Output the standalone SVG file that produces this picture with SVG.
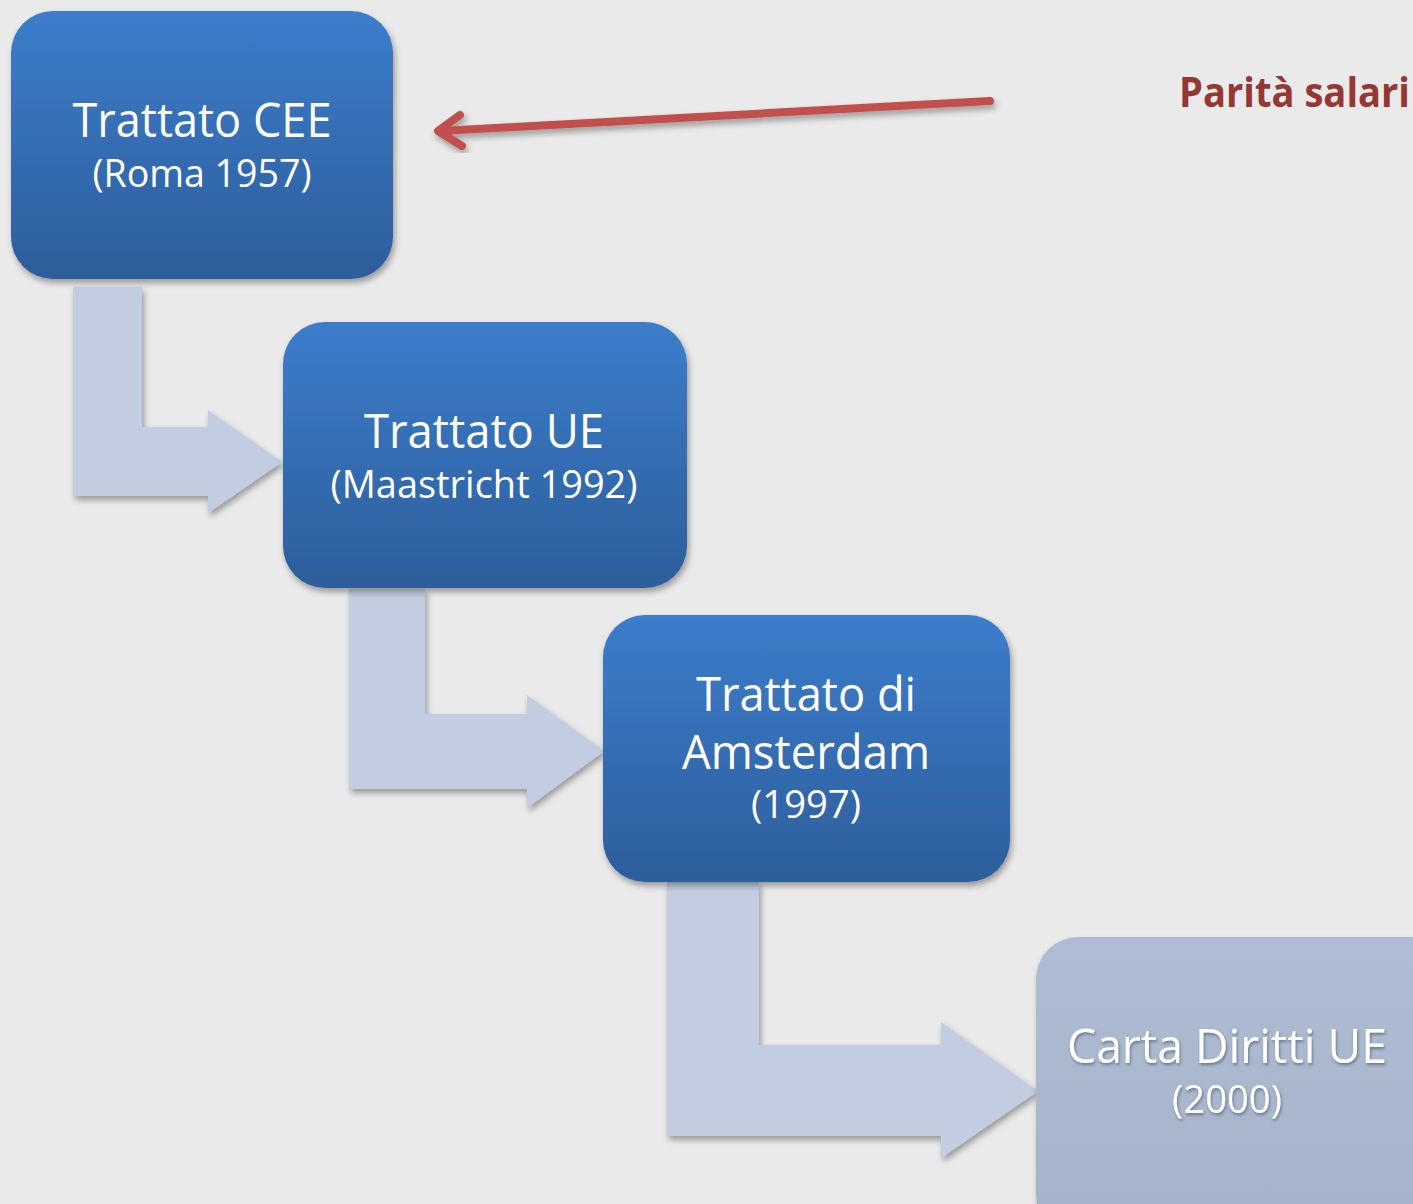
<svg xmlns="http://www.w3.org/2000/svg" width="1413" height="1204" viewBox="0 0 1413 1204">
<defs>
<linearGradient id="blue" x1="0" y1="0" x2="0" y2="1">
<stop offset="0" stop-color="#3C7DCB"/>
<stop offset="1" stop-color="#2D5E9B"/>
</linearGradient>
<linearGradient id="gray" x1="0" y1="0" x2="0" y2="1">
<stop offset="0" stop-color="#AEBDD3"/>
<stop offset="1" stop-color="#A5B3C8"/>
</linearGradient>
<filter id="sh" x="-10%" y="-10%" width="125%" height="125%">
<feDropShadow dx="2" dy="4" stdDeviation="3" flood-color="#000" flood-opacity="0.35"/>
</filter>
<filter id="tsh" x="-10%" y="-30%" width="125%" height="170%">
<feDropShadow dx="1" dy="2" stdDeviation="1.5" flood-color="#3A4A66" flood-opacity="0.6"/>
</filter>
<style>
.box{filter:url(#sh)}
.t{font-family:"Open Sans","Liberation Sans",sans-serif;fill:#fff;text-anchor:middle}
.big{font-size:48px}
.small{font-size:38px}
.bent{fill:#C2CDE1;filter:url(#sh)}
</style>
</defs>
<rect width="1413" height="1204" fill="#EAEAEA"/>
<g id="connectors">
<path class="bent" d="M73,287 H142 V427 H208 V410 L282,462 L208,513 V496 H73 Z"/>
<path class="bent" d="M349,589 H425 V714 H527 V695 L604,751 L527,808 V789 H349 Z"/>
<path class="bent" d="M667,882 H759 V1045 H941 V1022 L1038,1091 L941,1158 V1136 H667 Z"/>
<g id="red-arrow" filter="url(#sh)" stroke="#C0504D" stroke-width="8" fill="none" stroke-linecap="round" stroke-linejoin="round">
<line x1="990" y1="101" x2="440" y2="131"/>
<polyline points="460,115 438,131 462,146"/>
</g>
</g>
<g id="n1">
<rect class="box" x="11" y="11" width="382" height="268" rx="42" fill="url(#blue)"/>
<text class="t big" x="202" y="137" textLength="259" lengthAdjust="spacingAndGlyphs">Trattato CEE</text>
<text class="t small" x="202" y="187" textLength="219" lengthAdjust="spacingAndGlyphs">(Roma 1957)</text>
</g>
<g id="n2">
<rect class="box" x="283" y="322" width="404" height="266" rx="42" fill="url(#blue)"/>
<text class="t big" x="484" y="448" textLength="240" lengthAdjust="spacingAndGlyphs">Trattato UE</text>
<text class="t small" x="484" y="498" textLength="307" lengthAdjust="spacingAndGlyphs">(Maastricht 1992)</text>
</g>
<g id="n3">
<rect class="box" x="603" y="615" width="407" height="267" rx="42" fill="url(#blue)"/>
<text class="t big" x="806" y="711" textLength="220" lengthAdjust="spacingAndGlyphs">Trattato di</text>
<text class="t big" x="806" y="769" textLength="248" lengthAdjust="spacingAndGlyphs">Amsterdam</text>
<text class="t small" x="806" y="818" textLength="110" lengthAdjust="spacingAndGlyphs">(1997)</text>
</g>
<g id="n4">
<rect class="box" x="1036" y="937" width="420" height="300" rx="42" fill="url(#gray)"/>
<g filter="url(#tsh)">
<text class="t big" x="1227" y="1063" textLength="320" lengthAdjust="spacingAndGlyphs">Carta Diritti UE</text>
<text class="t small" x="1227" y="1113" textLength="110" lengthAdjust="spacingAndGlyphs">(2000)</text>
</g>
</g>
<g id="label">
<text x="1179" y="107" font-family="'Open Sans','Liberation Sans',sans-serif" font-weight="bold" font-size="41" fill="#953735" textLength="231" lengthAdjust="spacingAndGlyphs">Parità salari</text>
</g>
</svg>
